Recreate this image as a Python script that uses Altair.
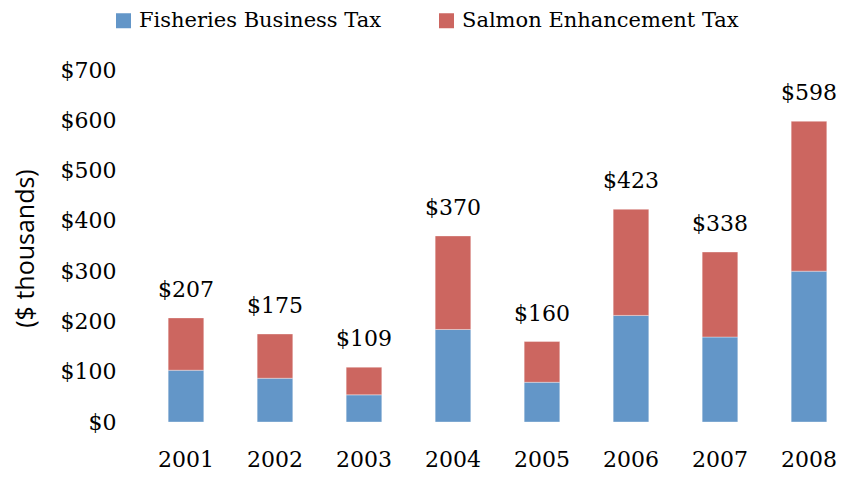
import altair as alt
import pandas as pd

years = ["2001", "2002", "2003", "2004", "2005", "2006", "2007", "2008"]
fisheries = [103, 87, 54, 184, 79, 212, 169, 300]
salmon = [104, 88, 55, 186, 81, 211, 169, 298]
totals = [207, 175, 109, 370, 160, 423, 338, 598]
series_names = ["Fisheries Business Tax", "Salmon Enhancement Tax"]
colors = ["#6396c8", "#cc6660"]
y_ticks = [0, 100, 200, 300, 400, 500, 600, 700]

rows = []
for i, yr in enumerate(years):
    rows.append({"year": yr, "series": series_names[0], "value": fisheries[i], "ord": 0})
    rows.append({"year": yr, "series": series_names[1], "value": salmon[i], "ord": 1})
df = pd.DataFrame(rows)
tot = pd.DataFrame({"year": years, "total": totals, "label": ["$" + str(t) for t in totals]})

serif = "DejaVu Serif"
xscale = alt.Scale(domain=years, paddingInner=0.6, paddingOuter=0.2157, align=0.734)
yscale = alt.Scale(domain=[0, 700], nice=False, zero=True)

x_axis = alt.Axis(title=None, labelAngle=0, labelFont=serif, labelFontSize=22,
                  labelColor="black", labelPadding=27, ticks=False, tickSize=0,
                  domain=False, grid=False, labelBaseline="top")
y_axis = alt.Axis(values=y_ticks, labelExpr="'$' + datum.value", labelFont=serif,
                  labelFontSize=22, labelColor="black", labelPadding=24, ticks=False,
                  tickSize=0, domain=False, grid=False, title="($ thousands)",
                  titleFont="Open Sans", titleFontSize=25, titleFontWeight="normal",
                  titleColor="black", titleAngle=270, titleX=-115, titleY=178,
                  titleAlign="center", titleBaseline="middle")

legend = alt.Legend(title=None, orient="none", legendX=-27, legendY=-60,
                    direction="horizontal", symbolType="square", symbolSize=225,
                    symbolStrokeWidth=0, labelFont=serif, labelFontSize=21,
                    labelColor="black", columnPadding=54, labelOffset=5, padding=0,
                    labelLimit=0)

bars = alt.Chart(df).mark_bar(stroke="white", strokeOpacity=0.35, strokeWidth=1).encode(
    x=alt.X("year:N", scale=xscale, axis=x_axis),
    y=alt.Y("value:Q", stack="zero", scale=yscale, axis=y_axis),
    color=alt.Color("series:N", scale=alt.Scale(domain=series_names, range=colors), legend=legend),
    order=alt.Order("ord:Q", sort="ascending"),
)

labels = alt.Chart(tot).mark_text(font=serif, fontSize=22, baseline="alphabetic",
                                   dy=-21, color="black").encode(
    x=alt.X("year:N", scale=xscale),
    y=alt.Y("total:Q", scale=yscale),
    text="label:N",
)

chart = alt.layer(bars, labels).properties(
    width=697, height=352,
    autosize=alt.AutoSizeParams(type="none"),
    padding={"left": 132, "top": 62, "right": 0, "bottom": 50},
).configure_view(stroke=None)

chart.save("out.html", embed_options={"renderer": "svg", "actions": False})
